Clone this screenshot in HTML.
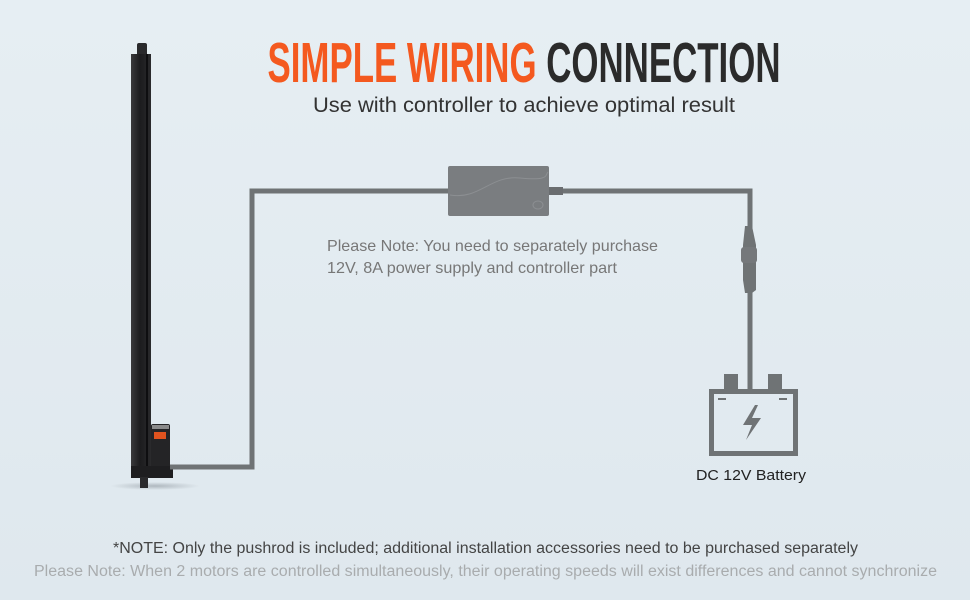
<!DOCTYPE html>
<html><head><meta charset="utf-8"><style>
html,body{margin:0;padding:0;background:#e3ebf1;}
svg{display:block;font-family:"Liberation Sans",sans-serif;}
</style></head><body>
<svg width="970" height="600" viewBox="0 0 970 600" xmlns="http://www.w3.org/2000/svg">
<defs>
<linearGradient id="bg" x1="0" y1="0" x2="0" y2="1"><stop offset="0" stop-color="#e6eef3"/><stop offset="1" stop-color="#dfe8ee"/></linearGradient>
<linearGradient id="rod" x1="0" x2="1"><stop offset="0" stop-color="#3a3a3c"/><stop offset="0.45" stop-color="#1c1c1e"/><stop offset="1" stop-color="#2a2a2c"/></linearGradient>
<radialGradient id="sh" cx="0.5" cy="0.5" r="0.5"><stop offset="0" stop-color="#9aa3aa" stop-opacity="0.7"/><stop offset="1" stop-color="#9aa3aa" stop-opacity="0"/></radialGradient>
</defs>
<rect width="970" height="600" fill="url(#bg)"/>
<text x="524" y="82" text-anchor="middle" font-family="'Liberation Sans Narrow','Liberation Sans',sans-serif" font-weight="bold" font-size="57" textLength="513" lengthAdjust="spacingAndGlyphs"><tspan fill="#f4591f">SIMPLE WIRING </tspan><tspan fill="#2b2b2b">CONNECTION</tspan></text>
<text x="313" y="112" font-size="21" fill="#333" textLength="422" lengthAdjust="spacingAndGlyphs">Use with controller to achieve optimal result</text>
<ellipse cx="155" cy="486" rx="45" ry="4" fill="url(#sh)"/>
<rect x="137" y="43" width="10" height="13" rx="2" fill="#2a2a2c"/>
<rect x="131" y="54" width="20" height="424" fill="url(#rod)"/>
<rect x="146" y="54" width="2" height="424" fill="#0e0e10"/>
<rect x="151" y="424" width="19" height="44" rx="2" fill="#242426"/>
<rect x="152" y="425" width="17" height="4" fill="#8a8a8a"/>
<rect x="154" y="432" width="12" height="7" fill="#e0531f"/>
<rect x="131" y="466" width="42" height="12" fill="#1e1e20"/>
<rect x="140" y="477" width="8" height="11" fill="#2a2a2c"/>
<g fill="none" stroke="#6f7375" stroke-width="5">
<polyline points="170,467 252,467 252,191 450,191"/>
<polyline points="548,191 750,191 750,390"/>
</g>
<rect x="448" y="166" width="101" height="50" rx="2" fill="#7a7d80"/>
<path d="M450 195 C480 200 490 175 520 178 S545 175 548 172" fill="none" stroke="#8c8f92" stroke-width="1"/>
<ellipse cx="538" cy="205" rx="5" ry="4" fill="none" stroke="#8c8f92"/>
<rect x="549" y="187" width="14" height="8" fill="#6a6d70"/>
<path d="M745 226 L752 226 L756 245 L756 290 L752 293 L745 293 L743 280 L743 245 Z" fill="#6f7375"/>
<rect x="741" y="247" width="16" height="16" rx="3" fill="#75787b"/>
<rect x="724" y="374" width="14" height="15" fill="#6f7375"/>
<rect x="768" y="374" width="14" height="15" fill="#6f7375"/>
<rect x="711.5" y="391.5" width="84" height="62" fill="none" stroke="#6f7375" stroke-width="5"/>
<rect x="718" y="398" width="8" height="2" fill="#6f7375"/>
<rect x="779" y="398" width="8" height="2" fill="#6f7375"/>
<path d="M755 405 L743 425 L752 425 L746 440 L761 418 L752 418 L758 405 Z" fill="#6f7375"/>
<text x="696" y="480" font-size="15" fill="#222" textLength="110" lengthAdjust="spacingAndGlyphs">DC 12V Battery</text>
<text x="327" y="251" font-size="16" fill="#777" textLength="331" lengthAdjust="spacingAndGlyphs">Please Note: You need to separately purchase</text>
<text x="327" y="273" font-size="16" fill="#777" textLength="290" lengthAdjust="spacingAndGlyphs">12V, 8A power supply and controller part</text>
<text x="113" y="553" font-size="15.5" fill="#444" textLength="745" lengthAdjust="spacingAndGlyphs">*NOTE: Only the pushrod is included; additional installation accessories need to be purchased separately</text>
<text x="34" y="576" font-size="15.5" fill="#a9acae" textLength="903" lengthAdjust="spacingAndGlyphs">Please Note: When 2 motors are controlled simultaneously, their operating speeds will exist differences and cannot synchronize</text>
</svg>
</body></html>
